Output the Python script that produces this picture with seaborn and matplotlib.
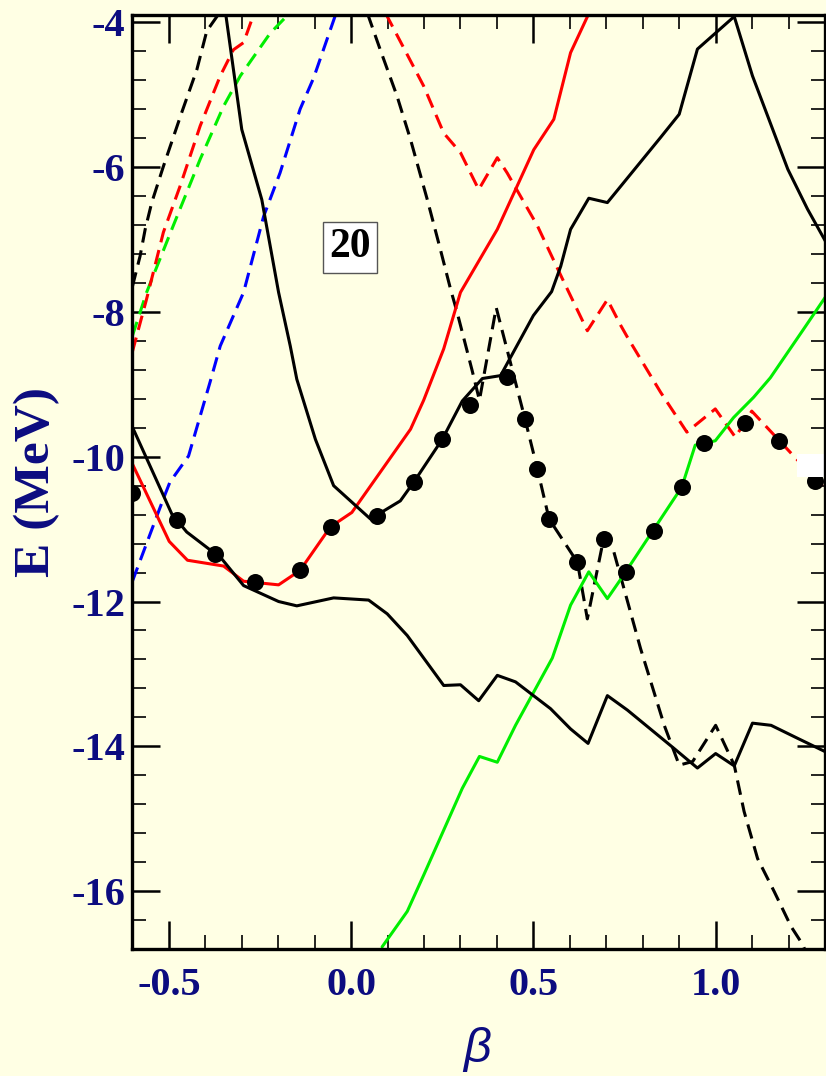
import numpy as np
import pandas as pd
import matplotlib
matplotlib.use("Agg")
import matplotlib.pyplot as plt
from matplotlib.ticker import MultipleLocator, FixedLocator
from matplotlib.patches import Rectangle
import seaborn as sns

# ---------------- data ----------------
red_solid_x = [-0.60, -0.499, -0.449, -0.35, -0.295, -0.199, -0.14, -0.057, 0.002, 0.163, 0.199, 0.254, 0.30, 0.401, 0.501, 0.556, 0.602, 0.652]
red_solid_y = [-10.10, -11.17, -11.43, -11.51, -11.72, -11.77, -11.57, -10.97, -10.77, -9.62, -9.22, -8.51, -7.73, -6.86, -5.76, -5.34, -4.42, -3.88]

black_low_x = [-0.60, -0.492, -0.451, -0.355, -0.295, -0.199, -0.149, -0.048, 0.048, 0.099, 0.154, 0.254, 0.300, 0.350, 0.401, 0.451, 0.547, 0.602, 0.650, 0.703, 0.758, 0.886, 0.950, 1.000, 1.051, 1.101, 1.152, 1.225, 1.303]
black_low_y = [-9.59, -10.79, -11.04, -11.41, -11.78, -12.00, -12.06, -11.95, -11.98, -12.17, -12.47, -13.16, -13.15, -13.37, -13.02, -13.11, -13.48, -13.76, -13.96, -13.30, -13.50, -14.03, -14.30, -14.10, -14.27, -13.68, -13.71, -13.89, -14.08]

black_up_x = [-0.345, -0.300, -0.245, -0.199, -0.167, -0.149, -0.098, -0.048, 0.053, 0.135, 0.172, 0.25, 0.305, 0.36, 0.41, 0.50, 0.55, 0.575, 0.602, 0.652, 0.703, 0.849, 0.900, 0.950, 1.051, 1.101, 1.198, 1.252, 1.303]
black_up_y = [-3.85, -5.48, -6.45, -7.73, -8.47, -8.93, -9.76, -10.40, -10.86, -10.61, -10.35, -9.76, -9.23, -8.92, -8.88, -8.05, -7.72, -7.37, -6.86, -6.43, -6.49, -5.59, -5.27, -4.37, -3.92, -4.74, -6.03, -6.58, -7.04]

green_x = [0.085, 0.154, 0.199, 0.305, 0.352, 0.401, 0.451, 0.552, 0.602, 0.652, 0.703, 0.740, 0.907, 0.944, 0.999, 1.049, 1.104, 1.150, 1.241, 1.303]
green_y = [-16.77, -16.28, -15.78, -14.58, -14.14, -14.22, -13.71, -12.78, -12.05, -11.59, -11.96, -11.69, -10.42, -9.84, -9.78, -9.46, -9.18, -8.91, -8.24, -7.78]

black_dash1_x = [-0.60, -0.579, -0.565, -0.547, -0.515, -0.465, -0.423, -0.396, -0.364]
black_dash1_y = [-7.65, -7.23, -6.86, -6.49, -5.99, -5.25, -4.65, -4.12, -3.89]

red_dash_left_x = [-0.60, -0.561, -0.515, -0.469, -0.414, -0.359, -0.323, -0.295, -0.268]
red_dash_left_y = [-8.55, -7.82, -6.90, -6.26, -5.43, -4.74, -4.38, -4.28, -3.90]

red_dash_right_x = [0.095, 0.199, 0.254, 0.300, 0.350, 0.401, 0.428, 0.511, 0.584, 0.648, 0.703, 0.740, 0.758, 0.849, 0.921, 0.999, 1.054, 1.099, 1.214, 1.296]
red_dash_right_y = [-3.88, -4.88, -5.53, -5.80, -6.31, -5.87, -6.08, -6.81, -7.59, -8.26, -7.83, -8.19, -8.35, -9.11, -9.66, -9.34, -9.73, -9.37, -9.99, -10.42]

green_dash_x = [-0.60, -0.561, -0.488, -0.414, -0.350, -0.304, -0.222, -0.172]
green_dash_y = [-8.33, -7.73, -6.81, -5.89, -5.16, -4.74, -4.15, -3.89]

blue_dash_x = [-0.60, -0.515, -0.497, -0.446, -0.387, -0.359, -0.295, -0.24, -0.195, -0.14, -0.103, -0.043]
blue_dash_y = [-11.72, -10.58, -10.35, -9.99, -8.97, -8.47, -7.73, -6.68, -6.08, -5.20, -4.77, -3.90]

black_dash2_x = [0.045, 0.080, 0.126, 0.163, 0.209, 0.245, 0.273, 0.291, 0.332, 0.352, 0.398, 0.437, 0.477, 0.511, 0.543, 0.621, 0.648, 0.694, 0.721, 0.794, 0.859, 0.900, 0.937, 1.000, 1.051, 1.078, 1.115, 1.161, 1.207, 1.239, 1.26]
black_dash2_y = [-3.88, -4.38, -5.02, -5.62, -6.45, -7.14, -7.69, -8.01, -8.81, -9.22, -7.94, -8.70, -9.48, -10.17, -10.86, -11.46, -12.24, -11.10, -11.32, -12.65, -13.71, -14.26, -14.21, -13.71, -14.26, -14.90, -15.55, -16.01, -16.49, -16.74, -17.0]

dots_x = [-0.60, -0.478, -0.373, -0.263, -0.14, -0.054, 0.071, 0.172, 0.25, 0.327, 0.428, 0.477, 0.511, 0.543, 0.621, 0.694, 0.753, 0.830, 0.907, 0.967, 1.081, 1.173, 1.273]
dots_y = [-10.50, -10.88, -11.35, -11.73, -11.57, -10.97, -10.82, -10.35, -9.76, -9.28, -8.90, -9.48, -10.17, -10.86, -11.46, -11.14, -11.59, -11.02, -10.42, -9.81, -9.53, -9.78, -10.34]

x_ticks = [-0.5, 0.0, 0.5, 1.0]
x_ticklabels = ["-0.5", "0.0", "0.5", "1.0"]
y_ticks = [-16, -14, -12, -10, -8, -6, -4]
y_ticklabels = ["-16", "-14", "-12", "-10", "-8", "-6", "-4"]
panel_label = "20"

# ---------------- style ----------------
sns.set_theme(style="ticks")
BG = "#ffffe4"
NAVY = "#0c0c80"
plt.rcParams["font.family"] = ["Liberation Serif", "DejaVu Serif"]
plt.rcParams["axes.unicode_minus"] = False

fig = plt.figure(figsize=(8.26, 10.76), dpi=100, facecolor=BG)
ax = fig.add_axes([0.1603, 0.118, 0.8385, 0.868])
ax.set_facecolor(BG)

LW = 2.2
DASH = (0, (4.8, 2.6))

def line(xs, ys, color, dashed=False, z=2):
    df = pd.DataFrame({"x": xs, "y": ys})
    kw = dict(linestyle=DASH) if dashed else {}
    sns.lineplot(data=df, x="x", y="y", sort=False, estimator=None, color=color,
                 linewidth=LW, ax=ax, zorder=z, **kw)

line(blue_dash_x, blue_dash_y, "#0000ff", dashed=True)
line(green_dash_x, green_dash_y, "#00ee00", dashed=True)
line(red_dash_left_x, red_dash_left_y, "#ff0000", dashed=True)
line(red_dash_right_x, red_dash_right_y, "#ff0000", dashed=True)
line(black_dash1_x, black_dash1_y, "black", dashed=True)
line(black_dash2_x, black_dash2_y, "black", dashed=True)
line(green_x, green_y, "#00ee00")
line(red_solid_x, red_solid_y, "#ff0000")
line(black_low_x, black_low_y, "black")
line(black_up_x, black_up_y, "black")

sns.scatterplot(x=dots_x, y=dots_y, s=150, color="black", edgecolor="black",
                linewidth=0, ax=ax, zorder=5)

# small white patch near the right edge seen in the reference
ax.add_patch(Rectangle((1.222, -10.28), 0.1, 0.32, facecolor="white",
                       edgecolor="none", zorder=6, clip_on=True))

ax.set_xlim(-0.6, 1.3)
ax.set_ylim(-16.8, -3.9)

ax.xaxis.set_major_locator(FixedLocator(x_ticks))
ax.set_xticklabels(x_ticklabels)
ax.xaxis.set_minor_locator(MultipleLocator(0.1))
ax.yaxis.set_major_locator(FixedLocator(y_ticks))
ax.set_yticklabels(y_ticklabels)
ax.yaxis.set_minor_locator(MultipleLocator(0.4))

ax.tick_params(which="both", direction="in", top=True, right=True, colors="black",
               labelcolor=NAVY)
ax.tick_params(which="major", length=20, width=1.8, labelsize=29)
ax.tick_params(which="minor", length=10, width=1.2)
ax.tick_params(axis="x", which="major", pad=13)
ax.tick_params(axis="y", which="major", pad=5)
for lab in ax.get_xticklabels() + ax.get_yticklabels():
    lab.set_fontweight("bold")
for sp in ax.spines.values():
    sp.set_linewidth(2.4)
    sp.set_color("black")
    sp.set_zorder(7)

ax.set_xlabel("")
ax.set_ylabel("")
fig.text(0.045, 0.552, "E (MeV)", rotation=90, ha="center", va="center",
         fontsize=37, fontweight="bold", color=NAVY)
fig.text(0.578, 0.025, "β", ha="center", va="center", fontsize=35,
         fontstyle="italic", color=NAVY, family=["Liberation Sans", "DejaVu Sans"])

ax.text(-0.002, -7.11, panel_label, ha="center", va="center", fontsize=30,
        fontweight="bold", color="black", zorder=8,
        bbox=dict(boxstyle="square,pad=0.15", facecolor="white",
                  edgecolor="#555555", linewidth=1.0))

fig.savefig("out.png", dpi=100, facecolor=BG)
